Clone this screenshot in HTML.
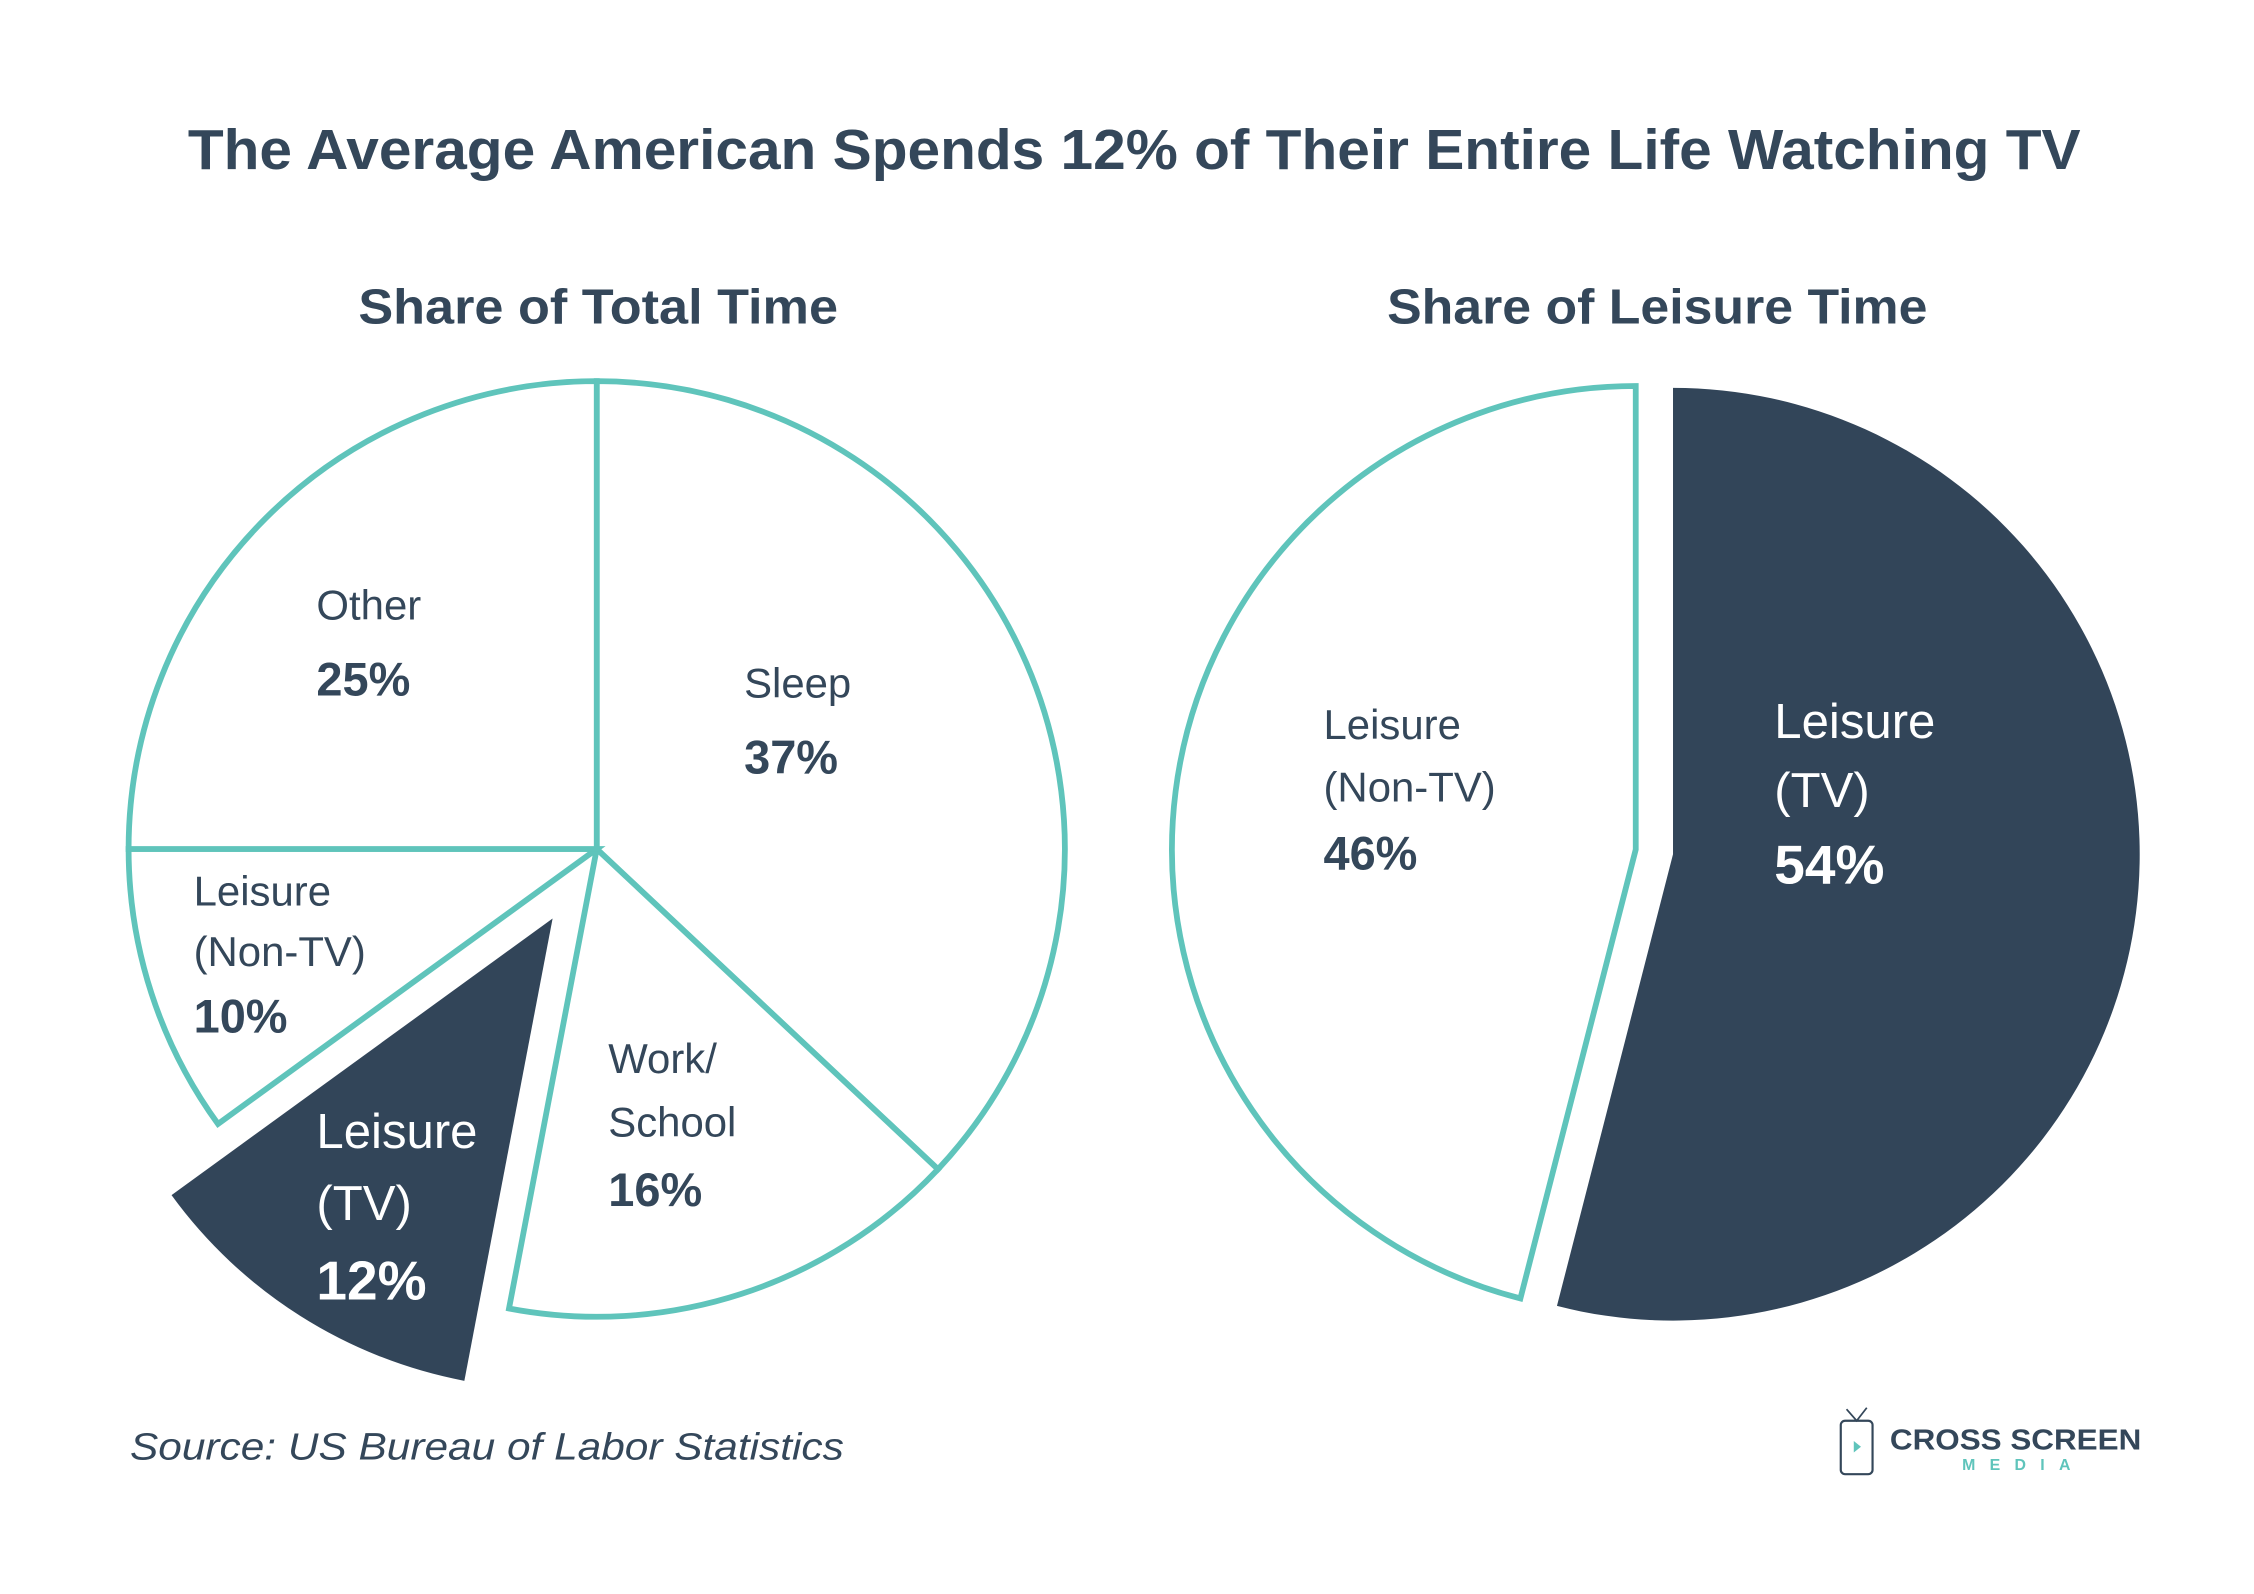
<!DOCTYPE html>
<html><head><meta charset="utf-8"><style>
html,body{margin:0;padding:0;background:#fff;}
svg{display:block;}
text{font-family:"Liberation Sans",sans-serif;fill:#34475a;}
</style></head><body>
<svg id="chart" width="2254" height="1594" viewBox="0 0 1560 1104" preserveAspectRatio="none">
<rect width="1560" height="1104" fill="#fff"/>
<text x="785" y="117" text-anchor="middle" font-size="39" font-weight="bold" textLength="1310" lengthAdjust="spacingAndGlyphs">The Average American Spends 12% of Their Entire Life Watching TV</text>
<text x="414" y="224" text-anchor="middle" font-size="34" font-weight="bold" textLength="332" lengthAdjust="spacingAndGlyphs">Share of Total Time</text>
<text x="1147" y="224" text-anchor="middle" font-size="34" font-weight="bold" textLength="374" lengthAdjust="spacingAndGlyphs">Share of Leisure Time</text>
<g id="left"></g>
<g id="right"></g>
<text x="90" y="1011" font-size="26" font-style="italic" textLength="494" lengthAdjust="spacingAndGlyphs">Source: US Bureau of Labor Statistics</text>
<g>
<rect x="1274" y="984" width="22" height="37" rx="3" fill="none" stroke="#34475a" stroke-width="1.5"/>
<path d="M1278 976 L1285 984 L1292 975" fill="none" stroke="#34475a" stroke-width="1.2"/>
<path d="M1283 998 L1288 1002 L1283 1006 Z" fill="#5fc4bb"/>
<text x="1308" y="1004" font-size="20" font-weight="bold" textLength="174" lengthAdjust="spacingAndGlyphs">CROSS SCREEN</text>
<text x="1358" y="1018" font-size="11" font-weight="bold" style="fill:#5fc4bb" textLength="75" lengthAdjust="spacing">MEDIA</text>
</g>
</svg>
<script>
const leftCats = ["Sleep","Work/School","Leisure (TV)","Leisure (Non-TV)","Other"];
const leftVals = [37,16,12,10,25];
const leftLabels = [["Sleep"],["Work/","School"],["Leisure","(TV)"],["Leisure","(Non-TV)"],["Other"]];
const rightCats = ["Leisure (TV)","Leisure (Non-TV)"];
const rightVals = [54,46];
const rightLabels = [["Leisure","(TV)"],["Leisure","(Non-TV)"]];
const NS="http://www.w3.org/2000/svg";
function pt(cx,cy,r,a){return [cx+r*Math.sin(a),cy-r*Math.cos(a)];}
function slicePath(cx,cy,r,a0,a1){
  const p0=pt(cx,cy,r,a0),p1=pt(cx,cy,r,a1);const large=(a1-a0)>Math.PI?1:0;
  return `M${cx} ${cy} L${p0[0]} ${p0[1]} A${r} ${r} 0 ${large} 1 ${p1[0]} ${p1[1]} Z`;
}
function drawPie(gid,vals,labels,cats,cx,cy,r,opts){
  const g=document.getElementById(gid);
  const tot=vals.reduce((a,b)=>a+b,0);let a=0;
  vals.forEach((v,i)=>{
    const a0=a,a1=a+v/tot*2*Math.PI;a=a1;
    const mid=(a0+a1)/2;const dark=opts.dark(i);
    const off=opts.explode(i);
    const ox=off*Math.sin(mid),oy=-off*Math.cos(mid);
    const p=document.createElementNS(NS,"path");
    
    
    p.setAttribute("d",slicePath(cx+ox,cy+oy,dark?r:r-2,a0,a1));
    p.setAttribute("fill",dark?"#324559":"#fff");
    p.setAttribute("stroke",dark?"none":"#5fc4bb");
    p.setAttribute("stroke-width","4");p.setAttribute("stroke-linejoin","miter");
    g.appendChild(p);
    const pos=opts.labelPos[i];
    const t=document.createElementNS(NS,"text");
    
    
    t.setAttribute("x",pos[0]);t.setAttribute("y",pos[1]);
    t.setAttribute("font-size",pos[2]);
    if(dark)t.setAttribute("style","fill:#fff");
    labels[i].forEach((line,k)=>{
      const s=document.createElementNS(NS,"tspan");
      s.setAttribute("x",pos[0]);if(k>0)s.setAttribute("dy",pos[3]);
      s.textContent=line;t.appendChild(s);
    });
    const s=document.createElementNS(NS,"tspan");
    s.setAttribute("x",pos[0]);s.setAttribute("dy",pos[3]*1.1);
    s.setAttribute("font-weight","bold");s.setAttribute("font-size",pos[2]*1.12);
    s.textContent=v+"%";t.appendChild(s);
    g.appendChild(t);
  });
}
drawPie("left",leftVals,leftLabels,leftCats,413,588,326,{
  dark:i=>i===2, explode:i=>i===2?57:0,
  labelPos:[[515,483,29,48],[421,743,29,44],[219,795,34,50],[134,627,29,42],[219,429,29,48]]
});
drawPie("right",rightVals,rightLabels,rightCats,1145,590,323,{
  dark:i=>i===0, explode:i=>13,
  labelPos:[[1228,511,34,48],[916,512,29,43]]
});
</script>
</body></html>
